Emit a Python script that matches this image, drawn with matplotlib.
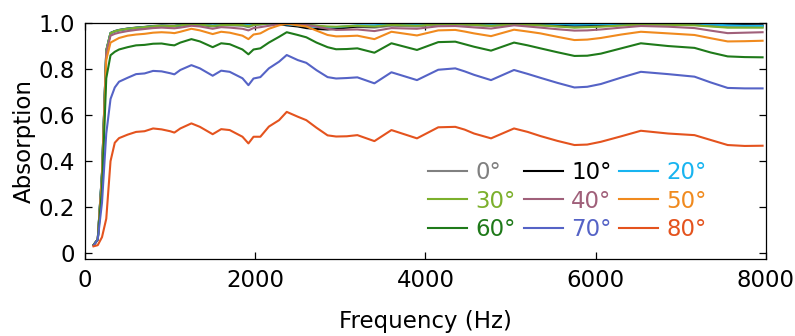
import matplotlib
matplotlib.use("Agg")
import matplotlib.pyplot as plt

freq = [100, 150, 200, 250, 300, 350, 400, 500, 600, 700, 800, 900, 1000, 1050,
        1120, 1250, 1350, 1500, 1600, 1700, 1850, 1920, 1980, 2060, 2160, 2280,
        2370, 2500,
        2600, 2720, 2850, 2950, 3075, 3200, 3400, 3600, 3900, 4150, 4350, 4460,
        4570, 4770, 5040, 5200, 5350, 5550, 5750, 5900, 6060, 6300, 6530, 6850,
        7160, 7350, 7550, 7750, 7960]

a0 = [0.035, 0.06, 0.35, 0.88, 0.955, 0.962, 0.967, 0.973, 0.977, 0.980, 0.984, 0.986, 0.985, 0.985,
      0.988, 0.993, 0.991, 0.985, 0.989, 0.990, 0.988, 0.982, 0.990, 0.993, 0.997, 1.0,
      1.0, 0.998,
      0.994, 0.988, 0.982, 0.980, 0.981, 0.983, 0.980, 0.988, 0.985, 0.993, 0.994, 0.992,
      0.990, 0.987, 0.993, 0.992, 0.990, 0.986, 0.982, 0.984, 0.987, 0.991, 0.995, 0.994,
      0.992, 0.987, 0.982, 0.982, 0.982]
a10 = [0.035, 0.06, 0.35, 0.88, 0.957, 0.965, 0.970, 0.976, 0.980, 0.983, 0.987, 0.989, 0.988, 0.988,
       0.991, 0.996, 0.994, 0.988, 0.992, 0.994, 0.993, 0.988, 0.995, 0.998, 1.0, 0.995,
       0.990, 0.985,
       0.978, 0.974, 0.972, 0.975, 0.980, 0.985, 0.985, 0.993, 0.992, 0.998, 0.999, 0.998,
       0.996, 0.993, 0.998, 0.997, 0.996, 0.993, 0.990, 0.991, 0.993, 0.996, 0.998, 0.998,
       0.997, 0.995, 0.992, 0.991, 0.990]
a20 = [0.035, 0.06, 0.35, 0.88, 0.956, 0.964, 0.969, 0.975, 0.979, 0.982, 0.986, 0.988, 0.987, 0.987,
       0.990, 0.995, 0.993, 0.989, 0.993, 0.995, 0.995, 0.990, 0.996, 0.998, 0.999, 0.997,
       0.994, 0.990,
       0.986, 0.983, 0.980, 0.982, 0.986, 0.990, 0.990, 0.996, 0.995, 0.999, 0.999, 0.999,
       0.998, 0.996, 0.999, 0.999, 0.998, 0.996, 0.993, 0.994, 0.995, 0.997, 0.999, 0.999,
       0.998, 0.994, 0.990, 0.988, 0.987]
a30 = [0.035, 0.06, 0.34, 0.88, 0.956, 0.964, 0.969, 0.975, 0.979, 0.982, 0.986, 0.988, 0.987, 0.987,
       0.990, 0.995, 0.993, 0.987, 0.991, 0.992, 0.991, 0.986, 0.992, 0.995, 0.998, 1.0,
       0.999, 0.996,
       0.992, 0.988, 0.985, 0.984, 0.986, 0.988, 0.985, 0.992, 0.988, 0.995, 0.996, 0.994,
       0.992, 0.988, 0.994, 0.992, 0.990, 0.985, 0.980, 0.982, 0.984, 0.989, 0.993, 0.992,
       0.990, 0.985, 0.980, 0.980, 0.980]
a40 = [0.035, 0.06, 0.33, 0.87, 0.945, 0.953, 0.958, 0.965, 0.970, 0.974, 0.978, 0.980, 0.978, 0.977,
       0.980, 0.988, 0.985, 0.975, 0.982, 0.980, 0.975, 0.968, 0.978, 0.982, 0.988, 0.995,
       0.998, 0.995,
       0.992, 0.984, 0.975, 0.970, 0.971, 0.972, 0.965, 0.978, 0.975, 0.986, 0.987, 0.984,
       0.981, 0.976, 0.990, 0.985, 0.980, 0.973, 0.967, 0.968, 0.972, 0.980, 0.987, 0.984,
       0.978, 0.967, 0.956, 0.958, 0.960]
a50 = [0.035, 0.06, 0.31, 0.84, 0.915, 0.925, 0.935, 0.945, 0.950, 0.953, 0.958, 0.960, 0.958, 0.956,
       0.962, 0.975, 0.968, 0.952, 0.962, 0.958, 0.945, 0.930, 0.950, 0.955, 0.975, 0.990,
       0.997, 0.990,
       0.985, 0.967, 0.948, 0.942, 0.943, 0.945, 0.930, 0.962, 0.946, 0.968, 0.970, 0.963,
       0.955, 0.943, 0.971, 0.963, 0.955, 0.940, 0.926, 0.928, 0.935, 0.950, 0.962, 0.955,
       0.948, 0.934, 0.920, 0.921, 0.923]
a60 = [0.035, 0.06, 0.28, 0.76, 0.860, 0.875, 0.885, 0.895, 0.903, 0.905, 0.910, 0.911, 0.905, 0.903,
       0.915, 0.930, 0.920, 0.895, 0.912, 0.908, 0.885, 0.864, 0.885, 0.890, 0.915, 0.940,
       0.960, 0.948,
       0.938, 0.915, 0.895, 0.886, 0.887, 0.890, 0.871, 0.912, 0.883, 0.917, 0.919, 0.908,
       0.897, 0.880, 0.915, 0.903, 0.890, 0.873, 0.857, 0.858, 0.867, 0.890, 0.912, 0.900,
       0.892, 0.872, 0.855, 0.852, 0.851]
a70 = [0.033, 0.06, 0.22, 0.52, 0.670, 0.720, 0.745, 0.762, 0.778, 0.781, 0.792, 0.790, 0.782, 0.777,
       0.796, 0.817, 0.803, 0.771, 0.793, 0.788, 0.760, 0.730, 0.759, 0.765, 0.803, 0.832,
       0.861, 0.839,
       0.827, 0.795, 0.765, 0.759, 0.761, 0.764, 0.738, 0.786, 0.752, 0.797, 0.803, 0.790,
       0.775, 0.752, 0.796, 0.779, 0.762, 0.740, 0.720, 0.723, 0.735, 0.763, 0.788, 0.778,
       0.767, 0.742, 0.718, 0.716, 0.716]
a80 = [0.030, 0.035, 0.07, 0.15, 0.400, 0.480, 0.500, 0.515, 0.527, 0.530, 0.542, 0.538, 0.530, 0.524,
       0.542, 0.564, 0.549, 0.517, 0.539, 0.535, 0.506, 0.477, 0.506, 0.506, 0.550, 0.578,
       0.614, 0.593,
       0.578, 0.545, 0.512, 0.507, 0.508, 0.513, 0.487, 0.535, 0.499, 0.547, 0.549, 0.537,
       0.520, 0.499, 0.542, 0.527, 0.509, 0.488, 0.470, 0.472, 0.484, 0.508, 0.532, 0.520,
       0.513, 0.492, 0.470, 0.466, 0.467]

labels = ["0°", "10°", "20°", "30°", "40°", "50°", "60°", "70°", "80°"]
series = [a0, a10, a20, a30, a40, a50, a60, a70, a80]
colors = ["#808080", "#000000", "#18b4f0", "#7cb02c", "#a0607a",
          "#f08a1e", "#1f7a1a", "#5563c6", "#e4531e"]

plt.rcParams['font.family'] = ['DejaVu Sans']
FS = 16.5

fig = plt.figure(figsize=(7.95, 3.36), dpi=100)
ax = fig.add_axes([0.1069, 0.2292, 0.8566, 0.7023])

lines = []
for y, c, lab in zip(series, colors, labels):
    ln, = ax.plot(freq, y, color=c, lw=1.5, label=lab)
    lines.append(ln)

ax.set_xlim(0, 8000)
ax.set_ylim(-0.025, 1.0)
ax.set_xticks([0, 2000, 4000, 6000, 8000])
ax.set_yticks([0, 0.2, 0.4, 0.6, 0.8, 1.0])
ax.set_yticklabels(["0", "0.2", "0.4", "0.6", "0.8", "1.0"])
for s in ax.spines.values():
    s.set_linewidth(0.9)
ax.tick_params(direction='in', length=5, width=0.9, top=True, right=True,
               labelsize=FS, pad=7)
ax.set_xlabel("Frequency (Hz)", fontsize=FS, labelpad=13)
ax.set_ylabel("Absorption", fontsize=FS, labelpad=2)

order = [0, 3, 6, 1, 4, 7, 2, 5, 8]
leg = ax.legend([lines[i] for i in order], [labels[i] for i in order],
                ncol=3, loc='lower right', frameon=False, fontsize=FS,
                handlelength=1.7, columnspacing=0.34, handletextpad=0.36,
                labelspacing=0.25, borderpad=0, borderaxespad=0,
                bbox_to_anchor=(0.889, 0.282), bbox_transform=fig.transFigure)
for t, i in zip(leg.get_texts(), order):
    t.set_color(colors[i])

fig.savefig("out.png", dpi=100)
